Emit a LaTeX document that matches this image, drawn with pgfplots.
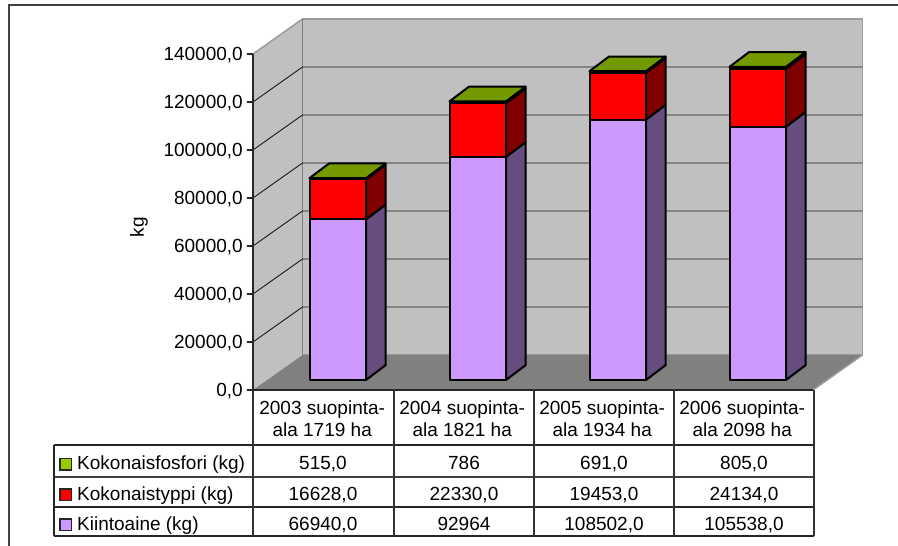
\documentclass[border=0pt]{standalone}
\usepackage{fontspec}
\usepackage{xfp}
\usepackage{pgfplots}
\usepackage{pgfplotstable}
\pgfplotsset{compat=1.18}
\setmainfont{Liberation Sans}

\definecolor{wall}{HTML}{C0C0C0}
\definecolor{floorgray}{HTML}{808080}
\definecolor{walledge}{HTML}{9C9C9C}
\definecolor{frameline}{HTML}{404040}
\definecolor{purplefront}{HTML}{CC99FF}
\definecolor{purpleside}{HTML}{664D80}
\definecolor{redfront}{HTML}{FF0000}
\definecolor{redside}{HTML}{800000}
\definecolor{greenfront}{HTML}{99CC00}
\definecolor{greenside}{HTML}{4D6600}
\definecolor{greentop}{HTML}{739900}

% Annual loads (kg) by area year
\pgfplotstableread{
row kiintoaine typpi fosfori
0   66940      16628 515
1   92964      22330 786
2   108502     19453 691
3   105538     24134 805
}\loadtable

% Depth of the chart box and of the bars, in axis units
\def\boxdx{0.3536}
\def\boxdy{14583}
\def\barleft{0.4036}
\def\barwidth{0.4036}
\def\bardx{0.1393}
\def\bardy{6143}
\def\barbase{4167}

% One gridline: across the side wall, then along the back wall
\newcommand{\gridlevel}[1]{%
  \edef\ya{\fpeval{#1+\boxdy}}%
  \edef\xa{\boxdx}%
  \edef\xb{\fpeval{4+\boxdx}}%
  \addplot[black!90,line width=0.9pt] coordinates {(0,#1) (\xa,\ya) (\xb,\ya)};
}

% One bar segment: side face, then front face
\newcommand{\barseg}[4]{%
  \edef\ya{\fpeval{#1}}%
  \edef\yb{\fpeval{#2}}%
  \edef\yc{\fpeval{#1+\bardy}}%
  \edef\yd{\fpeval{#2+\bardy}}%
  \addplot[fill=#4,draw=black,line width=2pt,line join=round] coordinates {(\xr,\ya) (\xd,\yc) (\xd,\yd) (\xr,\yb)} -- cycle;
  \addplot[fill=#3,draw=black,line width=2pt,line join=round] coordinates {(\xl,\ya) (\xr,\ya) (\xr,\yb) (\xl,\yb)} -- cycle;
}

% A whole stacked bar for one table row
\newcommand{\barstack}[1]{%
  \pgfplotstablegetelem{#1}{kiintoaine}\of\loadtable\edef\vk{\pgfplotsretval}%
  \pgfplotstablegetelem{#1}{typpi}\of\loadtable\edef\vt{\pgfplotsretval}%
  \pgfplotstablegetelem{#1}{fosfori}\of\loadtable\edef\vf{\pgfplotsretval}%
  \edef\xl{\fpeval{#1+\barleft}}%
  \edef\xr{\fpeval{#1+\barleft+\barwidth}}%
  \edef\xd{\fpeval{#1+\barleft+\barwidth+\bardx}}%
  \edef\xe{\fpeval{#1+\barleft+\bardx}}%
  \edef\ls{\fpeval{\barbase+\vk}}%
  \edef\lt{\fpeval{\barbase+\vk+\vt}}%
  \edef\lf{\fpeval{\barbase+\vk+\vt+\vf}}%
  \barseg{\barbase}{\ls}{purplefront}{purpleside}%
  \barseg{\ls}{\lt}{redfront}{redside}%
  \barseg{\lt}{\lf}{greenfront}{greenside}%
  \edef\yt{\fpeval{\lf+\bardy}}%
  \addplot[fill=greentop,draw=black,line width=2pt,line join=round] coordinates {(\xl,\lf) (\xr,\lf) (\xd,\yt) (\xe,\yt)} -- cycle;
}

\newcommand{\cell}[3]{\node[anchor=base,inner sep=0pt] at (#1,#2) {#3};}
\newcommand{\legendrow}[3]{%
  \draw[fill=#2,draw=black!85,line width=1.4pt] (59.8,#1-11.5) rectangle (71.6,#1);
  \node[anchor=base west,inner sep=0pt] at (77,#1) {#3};
}

\begin{document}
\begin{tikzpicture}
\path[use as bounding box] (0,0) rectangle (898pt,546pt);
\begin{axis}[
  at={(253pt,156pt)}, anchor=south west,
  scale only axis, width=560pt, height=336pt,
  xmin=0, xmax=4, ymin=0, ymax=140000,
  clip=false, axis on top, no markers,
  axis y line*=left, axis x line*=bottom,
  axis line style={black!85,line width=1.1pt,-},
  xtick={0.5,1.5,2.5,3.5},
  xticklabels={{2003 suopinta-\\ala 1719 ha},{2004 suopinta-\\ala 1821 ha},{2005 suopinta-\\ala 1934 ha},{2006 suopinta-\\ala 2098 ha}},
  xtick style={draw=none},
  xticklabel style={font=\fontsize{19}{22.5}\selectfont,align=center,anchor=north,inner sep=0pt,yshift=-4.5pt,xshift=-0.8pt},
  ytick={0,20000,...,140000},
  tick align=outside,
  ytick style={black!85,line width=1.1pt},
  major tick length=6pt,
  yticklabel style={font=\fontsize{19}{23}\selectfont,inner xsep=0pt,xshift=-4pt,yshift=-1.5pt,
    /pgf/number format/.cd,fixed,fixed zerofill,precision=1,use comma,1000 sep={},assume math mode=true},
  scaled y ticks=false,
  ylabel={kg},
  every axis y label/.style={at={(axis description cs:-0.2036,0.484)},rotate=90,anchor=center,font=\fontsize{19}{23}\selectfont},
]
% chart box: side wall, back wall, floor
\addplot[fill=wall,draw=none] coordinates {(0,0) (\boxdx,14583) (\boxdx,154583) (0,140000)} -- cycle;
\addplot[fill=wall,draw=walledge,line width=1.5pt] coordinates {(\boxdx,14583) (4.3536,14583) (4.3536,154583) (\boxdx,154583)} -- cycle;
\addplot[fill=floorgray,draw=none] coordinates {(0,0) (4,0) (4.3536,14583) (\boxdx,14583)} -- cycle;
\addplot[walledge,line width=1.5pt] coordinates {(4,0) (4.3536,14583)};
\addplot[walledge,line width=1.5pt] coordinates {(0,140000) (\boxdx,154583)};
\addplot[floorgray,line width=1.8pt] coordinates {(\boxdx,14583) (\boxdx,154583)};
\gridlevel{20000}
\gridlevel{40000}
\gridlevel{60000}
\gridlevel{80000}
\gridlevel{100000}
\gridlevel{120000}
\barstack{0}
\barstack{1}
\barstack{2}
\barstack{3}
\end{axis}

% Data table and outer frame, measured downward from the top edge
\begin{scope}[x=1pt,y=-1pt,shift={(0,546pt)},font=\fontsize{19}{23}\selectfont]
\draw[frameline,line width=2pt] (9,546) -- (9,5) -- (898,5);
\draw[black!85,line width=1.1pt] (54,445) -- (814,445) (54,507) -- (814,507) (54,536) -- (814,536);
\draw[black!75,line width=1.1pt] (54,477) -- (814,477);
\draw[black!85,line width=1.1pt] (54,445) -- (54,536);
\foreach \x in {253,394,534,674,814} \draw[black!80,line width=1.1pt] (\x,390) -- (\x,536);
\legendrow{470}{greenfront}{Kokonaisfosfori (kg)}
\legendrow{500.5}{redfront}{Kokonaistyppi (kg)}
\legendrow{530.5}{purplefront}{Kiintoaine (kg)}
\cell{323}{470}{515,0}\cell{464}{470}{786}\cell{604}{470}{691,0}\cell{744}{470}{805,0}
\cell{323}{500.5}{16628,0}\cell{464}{500.5}{22330,0}\cell{604}{500.5}{19453,0}\cell{744}{500.5}{24134,0}
\cell{323}{530.5}{66940,0}\cell{464}{530.5}{92964}\cell{604}{530.5}{108502,0}\cell{744}{530.5}{105538,0}
\end{scope}
\end{tikzpicture}
\end{document}
